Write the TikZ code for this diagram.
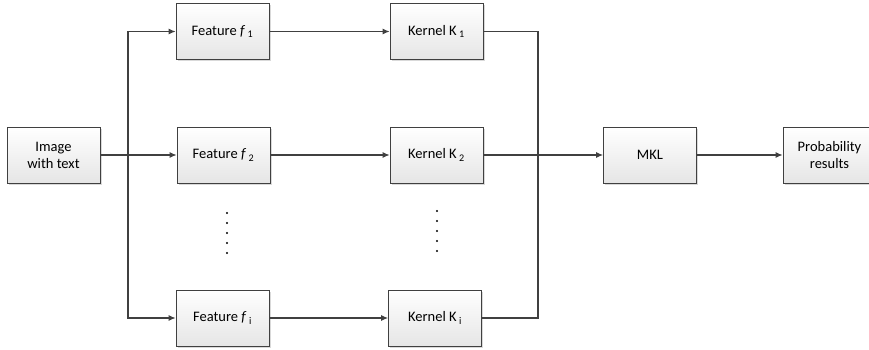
\documentclass[tikz,border=0pt]{standalone}
\usepackage{fontspec}
\setmainfont{Carlito}
\usepackage{tikz}
\usetikzlibrary{calc, arrows.meta, shadows}
\definecolor{linegray}{HTML}{404040}
\tikzset{
  blk/.style={draw=linegray, line width=0.8pt, top color=white, bottom color=black!10,
    minimum width=93pt, minimum height=56pt, align=center, font=\fontsize{14.5}{17}\selectfont,
    drop shadow={shadow xshift=1.5pt, shadow yshift=-1.5pt, fill=black!25, opacity=0.6}},
  wire/.style={draw=linegray, line width=1.1pt},
  conn/.style={wire, -{Latex[length=7pt,width=6pt]}}
}
\newcommand{\ftr}[1]{Feature \textit{f}\,\textsubscript{#1}}
\newcommand{\krn}[1]{Kernel K\,\textsubscript{#1}}

\begin{document}
\begin{tikzpicture}[x=1pt, y=-1pt]
\useasboundingbox (0,0) rectangle (869,350);
\path (53.5,155) node[blk] (img) {Image\\with text};
\path (222.5,31.5) node[blk] (f1) {\ftr{1}};
\path (223.5,155) node[blk] (f2) {\ftr{2}};
\path (222.5,318) node[blk] (fi) {\ftr{i}};
\path (436.5,31.5) node[blk] (k1) {\krn{1}};
\path (436.5,155) node[blk] (k2) {\krn{2}};
\path (435,318) node[blk] (ki) {\krn{i}};
\path (650,155) node[blk] (mkl) {MKL};
\path (829.5,155) node[blk] (prob) {Probability\\results};
\coordinate (split) at (128,155);
\coordinate (merge) at (538,155);
% dots between rows
\foreach \y in {0,1,2,3,4} {
  \fill (227,213+10*\y) circle (1.1pt);
  \fill (437,211+10*\y) circle (1.1pt);
}
% fan out
\draw[conn] (img.east) -- (f2.west);
\draw[conn] (split) |- (f1.west);
\draw[conn] (split) |- (fi.west);
\foreach \a/\b in {f1/k1, f2/k2, fi/ki}
  \draw[conn] (\a.east) -- (\b.west);
% fan in
\draw[wire] (k1.east) -| (merge);
\draw[wire] (ki.east) -| (merge);
\draw[conn] (k2.east) -- (mkl.west);
\draw[conn] (mkl.east) -- (prob.west);
\end{tikzpicture}
\end{document}
